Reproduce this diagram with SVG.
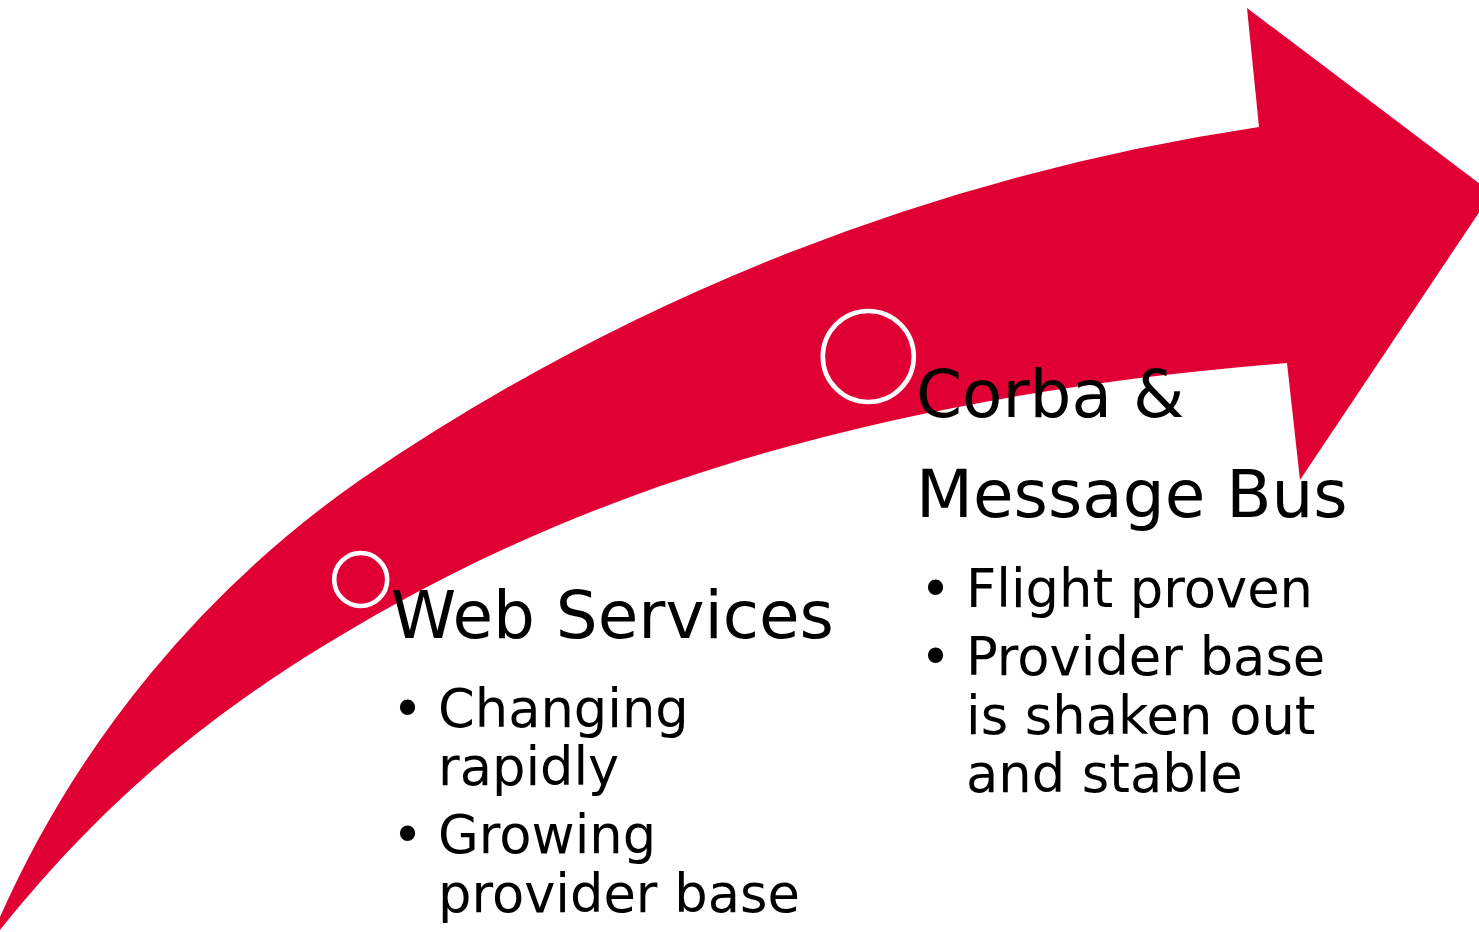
<svg xmlns="http://www.w3.org/2000/svg" width="1479" height="932" viewBox="0 0 1479 932">
  <style>
    .arrow { fill: #E00034; }
    .ring { fill: none; stroke: #FFFFFF; stroke-width: 4.6; }
    .head { font-family: "DejaVu Sans", "Liberation Sans", sans-serif; font-size: 66px; fill: #000000; }
    .item { font-family: "DejaVu Sans", "Liberation Sans", sans-serif; font-size: 52.7px; fill: #000000; }
  </style>
  <rect width="1479" height="932" fill="#FFFFFF"/>
  <g id="arrow">
    <path class="arrow" d="M -8 945 L 0 930
      C 130 767.5 260 679.8 390 607
      C 640 467 937 391 1287 363
      L 1300 480 L 1492 193 L 1247 8 L 1259 127
      A 2156 2156 0 0 0 360 480
      A 1057 1057 0 0 0 0 917
      L -8 930 Z"/>
  </g>
  <g id="milestone-web">
    <circle class="ring" cx="360.7" cy="579.5" r="26.5"/>
    <text class="head" x="391" y="638" textLength="443" lengthAdjust="spacing">Web Services</text>
    <text class="item" x="392" y="727">•</text>
    <text class="item" x="438" y="727">Changing</text>
    <text class="item" x="438" y="785">rapidly</text>
    <text class="item" x="392" y="853">•</text>
    <text class="item" x="438" y="853">Growing</text>
    <text class="item" x="438" y="912">provider base</text>
  </g>
  <g id="milestone-corba">
    <circle class="ring" cx="868.3" cy="356.5" r="45.5"/>
    <text class="head" x="916" y="417">Corba &amp;</text>
    <text class="head" x="916" y="517">Message Bus</text>
    <text class="item" x="920" y="607">•</text>
    <text class="item" x="966" y="607">Flight proven</text>
    <text class="item" x="920" y="675">•</text>
    <text class="item" x="966" y="675">Provider base</text>
    <text class="item" x="966" y="734">is shaken out</text>
    <text class="item" x="966" y="792">and stable</text>
  </g>
</svg>
